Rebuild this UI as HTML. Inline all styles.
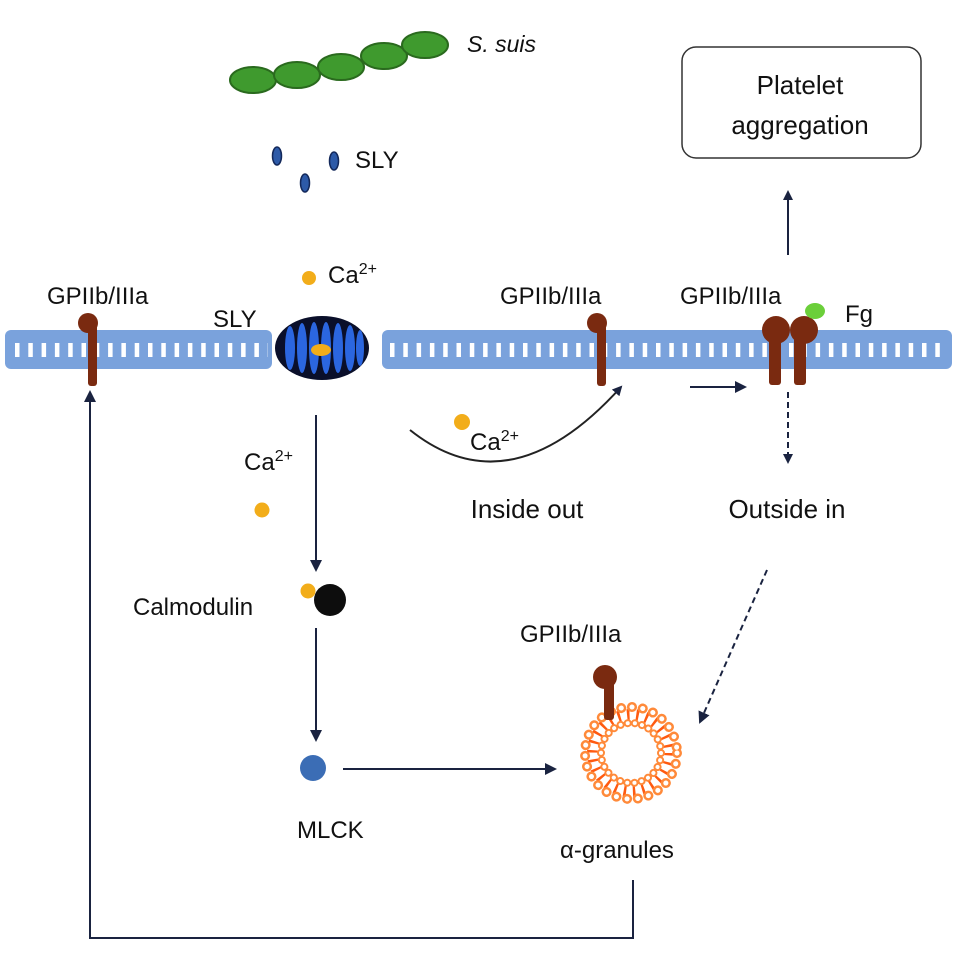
<!DOCTYPE html>
<html><head><meta charset="utf-8"><style>
html,body{margin:0;padding:0;background:#fff}
svg{display:block}
text{font-family:"Liberation Sans",sans-serif;fill:#111}
</style></head><body>
<svg width="957" height="967" viewBox="0 0 957 967" xmlns="http://www.w3.org/2000/svg">
<defs>
<marker id="ah" markerWidth="10" markerHeight="10" refX="8" refY="5" orient="auto" markerUnits="userSpaceOnUse"><path d="M0,0 L10,5 L0,10 z" fill="#1a2340"/></marker>
<marker id="ah2" markerWidth="12" markerHeight="12" refX="10" refY="6" orient="auto" markerUnits="userSpaceOnUse"><path d="M0,0 L12,6 L0,12 z" fill="#1a2340"/></marker>
</defs>
<!-- membrane -->
<rect x="5" y="330" width="267" height="39" rx="6" fill="#7aa2dc"/>
<rect x="382" y="330" width="570" height="39" rx="6" fill="#7aa2dc"/>
<line x1="15" y1="350" x2="268" y2="350" stroke="#fff" stroke-width="14" stroke-dasharray="4.5,8.8"/>
<line x1="390" y1="350" x2="948" y2="350" stroke="#fff" stroke-width="14" stroke-dasharray="4.5,8.8"/>
<!-- S suis -->
<g fill="#3f9a2e" stroke="#2a6a1e" stroke-width="2">
<ellipse cx="253" cy="80" rx="23" ry="13"/>
<ellipse cx="297" cy="75" rx="23" ry="13"/>
<ellipse cx="341" cy="67" rx="23" ry="13"/>
<ellipse cx="384" cy="56" rx="23" ry="13"/>
<ellipse cx="425" cy="45" rx="23" ry="13"/>
</g>
<text x="467" y="52" font-size="23" font-style="italic">S. suis</text>
<g fill="#2d5aa8" stroke="#13285a" stroke-width="1.5">
<ellipse cx="277" cy="156" rx="4.5" ry="9"/>
<ellipse cx="334" cy="161" rx="4.5" ry="9"/>
<ellipse cx="305" cy="183" rx="4.5" ry="9"/>
</g>
<text x="355" y="168" font-size="24">SLY</text>
<circle cx="309" cy="278" r="7" fill="#f2ad1a"/>
<text x="328" y="283" font-size="24">Ca<tspan font-size="16" dy="-9">2+</tspan></text>
<text x="47" y="304" font-size="24">GPIIb/IIIa</text>
<text x="213" y="327" font-size="24">SLY</text>
<!-- pore -->
<ellipse cx="322" cy="348" rx="47" ry="32" fill="#0a0f2a"/>
<g fill="#2b66e0">
<ellipse cx="290" cy="348" rx="5" ry="22"/><ellipse cx="302" cy="348" rx="5" ry="25"/>
<ellipse cx="314" cy="348" rx="5" ry="26"/><ellipse cx="326" cy="348" rx="5" ry="26"/>
<ellipse cx="338" cy="348" rx="5" ry="25"/><ellipse cx="350" cy="348" rx="5" ry="23"/>
<ellipse cx="360" cy="348" rx="4" ry="18"/>
</g>
<ellipse cx="321" cy="350" rx="10" ry="6" fill="#f2ad1a"/>
<!-- granule -->
<g>
<circle cx="631" cy="753" r="38" fill="none" stroke="#ff5a10" stroke-width="12" stroke-dasharray="2.5,6.7"/>
<circle cx="631" cy="753" r="46" fill="none" stroke="#ff8a3a" stroke-width="10" stroke-dasharray="0.1,10.77" stroke-linecap="round"/>
<circle cx="631" cy="753" r="46" fill="none" stroke="#fff" stroke-width="5" stroke-dasharray="0.1,10.77" stroke-linecap="round"/>
<circle cx="631" cy="753" r="30" fill="none" stroke="#ff8a3a" stroke-width="8" stroke-dasharray="0.1,7.15" stroke-linecap="round"/>
<circle cx="631" cy="753" r="30" fill="none" stroke="#fff" stroke-width="4" stroke-dasharray="0.1,7.15" stroke-linecap="round"/>
</g>
<!-- receptors -->
<g fill="#7a2a10">
<circle cx="88" cy="323" r="10"/><rect x="88" y="318" width="9" height="68" rx="3"/>
<circle cx="597" cy="323" r="10"/><rect x="597" y="318" width="9" height="68" rx="3"/>
<circle cx="776" cy="330" r="14"/><rect x="769" y="325" width="12" height="60" rx="3"/>
<circle cx="804" cy="330" r="14"/><rect x="794" y="325" width="12" height="60" rx="3"/>
<circle cx="605" cy="677" r="12"/><rect x="604" y="668" width="10" height="52" rx="3"/>
</g>
<ellipse cx="815" cy="311" rx="10" ry="8" fill="#6bcf3a"/>
<text x="500" y="304" font-size="24">GPIIb/IIIa</text>
<text x="680" y="304" font-size="24">GPIIb/IIIa</text>
<text x="845" y="322" font-size="24">Fg</text>
<!-- box -->
<rect x="682" y="47" width="239" height="111" rx="14" fill="#fff" stroke="#333" stroke-width="1.5"/>
<text x="800" y="94" font-size="26" text-anchor="middle">Platelet</text>
<text x="800" y="134" font-size="26" text-anchor="middle">aggregation</text>
<!-- arrows -->
<g stroke="#1a2340" stroke-width="2" fill="none">
<line x1="788" y1="255" x2="788" y2="192" marker-end="url(#ah)"/>
<line x1="690" y1="387" x2="745" y2="387" marker-end="url(#ah2)"/>
<line x1="788" y1="392" x2="788" y2="462" stroke-dasharray="6,4" marker-end="url(#ah)"/>
<line x1="767" y1="570" x2="700" y2="722" stroke-dasharray="6,4" marker-end="url(#ah2)"/>
<line x1="316" y1="415" x2="316" y2="570" marker-end="url(#ah2)"/>
<line x1="316" y1="628" x2="316" y2="740" marker-end="url(#ah2)"/>
<line x1="343" y1="769" x2="555" y2="769" marker-end="url(#ah2)"/>
<polyline points="633,880 633,938 90,938 90,392" marker-end="url(#ah2)"/>
<path d="M410,430 Q510,510 621,387" stroke="#222" marker-end="url(#ah)"/>
</g>
<circle cx="462" cy="422" r="8" fill="#f2ad1a"/>
<text x="470" y="450" font-size="24">Ca<tspan font-size="16" dy="-9">2+</tspan></text>
<text x="527" y="518" font-size="26" text-anchor="middle">Inside out</text>
<text x="787" y="518" font-size="26" text-anchor="middle">Outside in</text>
<text x="244" y="470" font-size="24">Ca<tspan font-size="16" dy="-9">2+</tspan></text>
<circle cx="262" cy="510" r="7.5" fill="#f2ad1a"/>
<text x="133" y="615" font-size="24">Calmodulin</text>
<circle cx="308" cy="591" r="7.5" fill="#f2ad1a"/>
<circle cx="330" cy="600" r="16" fill="#0d0d0d"/>
<circle cx="313" cy="768" r="13" fill="#3b6db5"/>
<text x="297" y="838" font-size="24">MLCK</text>
<text x="520" y="642" font-size="24">GPIIb/IIIa</text>
<text x="560" y="858" font-size="24">α-granules</text>
</svg>
</body></html>
